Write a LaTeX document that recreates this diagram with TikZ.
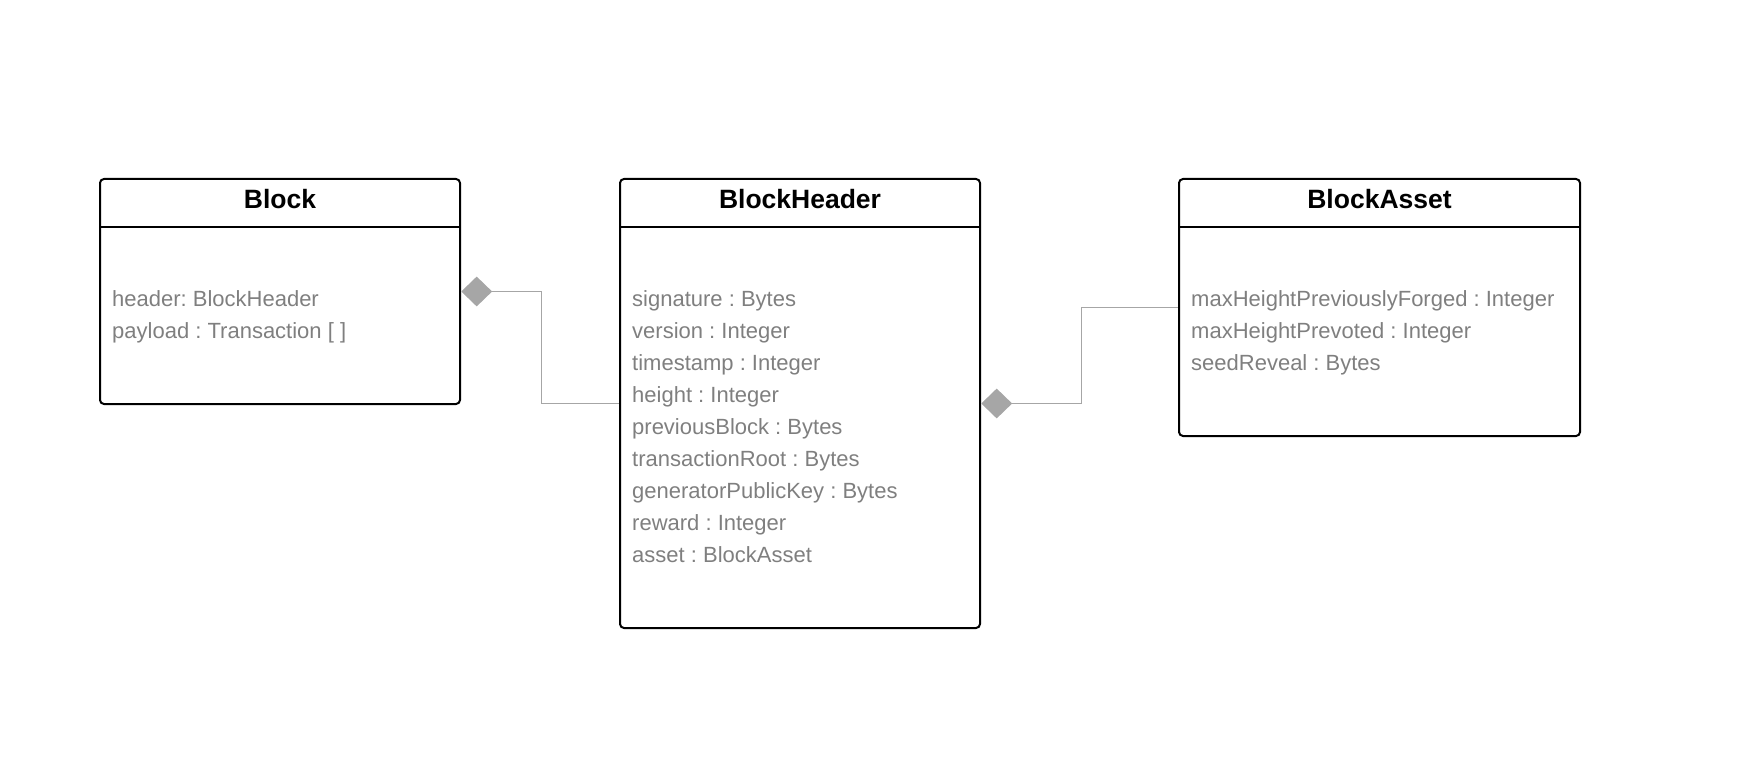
\documentclass[tikz,border=0pt]{standalone}
\usepackage{fontspec}
\setmainfont{Liberation Sans}
\usetikzlibrary{shapes.geometric}
\definecolor{attrtext}{HTML}{7F7F7F}
\definecolor{linkgray}{HTML}{A6A6A6}
\frenchspacing

\begin{document}
\begin{tikzpicture}[x=1pt,y=-1pt,
  classbox/.style={draw,line width=2pt,rounded corners=4pt,inner sep=0pt},
  classname/.style={inner sep=0pt,minimum height=49pt,text height=19pt,text depth=7pt,font=\fontsize{26.5}{30}\selectfont\bfseries},
  sepline/.style={line width=2pt},
  attr/.style={anchor=base west,inner sep=0pt,text=attrtext,font=\fontsize{22}{26}\selectfont},
  comp/.style={diamond,fill=linkgray,inner sep=0pt,minimum width=31pt,minimum height=30pt},
  link/.style={draw=linkgray,line width=1.2pt}]

\useasboundingbox (0,0) rectangle (1758,759);

% classes
\node[classbox,minimum width=360pt,minimum height=225pt] (block) at (280,291.5) {};
\node[classbox,minimum width=360pt,minimum height=449pt] (header) at (800,403.5) {};
\node[classbox,minimum width=401pt,minimum height=257pt] (asset) at (1379.5,307.5) {};

\foreach \c/\t in {block/Block, header/BlockHeader, asset/BlockAsset}{
  \node[classname,anchor=north] (\c-name) at (\c.north) {\t};
  \draw[sepline] (\c-name.south -| \c.west) -- (\c-name.south -| \c.east);
}

% attributes
\foreach \t [count=\i] in {header: BlockHeader, payload : Transaction [ ]}
  \node[attr] (block-\i) at (112,274+32*\i) {\t};

\foreach \t [count=\i] in {signature : Bytes, version : Integer, timestamp : Integer,%
            height : Integer, previousBlock : Bytes, transactionRoot : Bytes,%
            generatorPublicKey : Bytes, reward : Integer, asset : BlockAsset%
            }
  \node[attr] (header-\i) at (632,274+32*\i) {\t};

\foreach \t [count=\i] in {maxHeightPreviouslyForged : Integer, maxHeightPrevoted : Integer, seedReveal : Bytes}
  \node[attr] (asset-\i) at (1191,274+32*\i) {\t};

% compositions
\node[comp,anchor=west] (block-comp) at (block.east) {};
\node[comp,anchor=west] (header-comp) at (header.east) {};

\draw[link] (block-comp.east) -- ++(49,0) |- (header.west);
\draw[link] (header-comp.east) -- ++(69,0) |- (asset.west);

\end{tikzpicture}
\end{document}
